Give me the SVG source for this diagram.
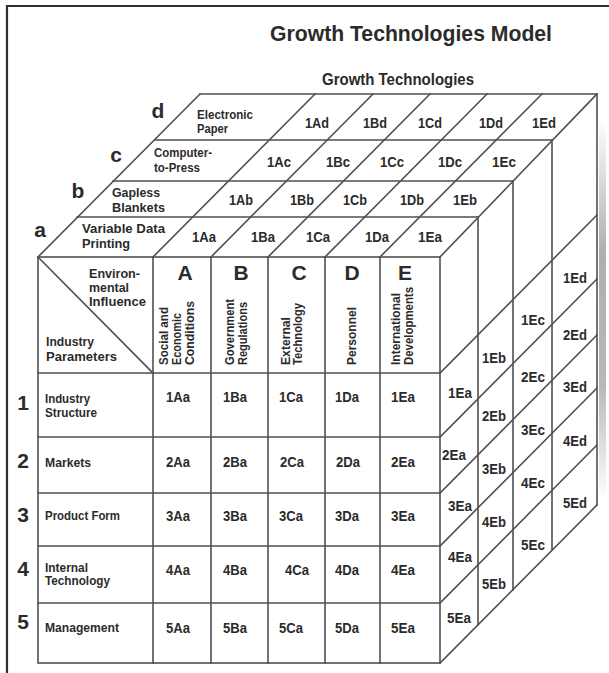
<svg xmlns="http://www.w3.org/2000/svg" width="609" height="673" viewBox="0 0 609 673">
<defs>
<style>
.ln{stroke:#505050;stroke-width:1.6;fill:none;stroke-linecap:square}
.fr{stroke:#303030;stroke-width:2.2;fill:none}
text{font-family:"Liberation Sans Narrow","Liberation Sans",Arial,sans-serif;font-weight:bold;fill:#2b2b2b}
.c{font-size:14px;text-anchor:middle}
.big{font-size:21px;text-anchor:middle}
.lb{font-size:13px}
.rl{font-size:12.5px}
.rt{font-size:12px}
.hd{font-size:13px}
</style>
<linearGradient id="shade" x1="0" y1="0" x2="0" y2="1">
<stop offset="0" stop-color="#9a9a9a" stop-opacity="0"/>
<stop offset="0.35" stop-color="#9a9a9a" stop-opacity="0.8"/>
<stop offset="0.7" stop-color="#9a9a9a" stop-opacity="0.7"/>
<stop offset="1" stop-color="#9a9a9a" stop-opacity="0"/>
</linearGradient>
</defs>
<rect width="609" height="673" fill="#ffffff"/>
<g id="frame">
<path class="fr" d="M7,673 V6 H609"/>
<rect x="599" y="120" width="7" height="380" fill="url(#shade)"/>
</g>
<g id="titles">
<text x="411" y="41" font-size="22" text-anchor="middle" textLength="282" lengthAdjust="spacingAndGlyphs">Growth Technologies Model</text>
<text x="398" y="85" font-size="16.5" text-anchor="middle" textLength="152" lengthAdjust="spacingAndGlyphs">Growth Technologies</text>
</g>
<g id="connectors">
<path class="ln" d="M77,217 H478 M113,181 H513 M155,140 H552 M200,94 H597"/>
<path class="ln" d="M38,257 L200,94 M153,257 L315,94 M211,257 L373,94 M268,257 L430,94 M325,257 L487,94 M380,257 L542,94 M440,257 L597,94"/>
<rect class="ln" x="38" y="257" width="402" height="406"/>
<path class="ln" d="M153,257 V663 M211,257 V663 M268,257 V663 M325,257 V663 M380,257 V663"/>
<path class="ln" d="M38,373 H440 M38,437 H440 M38,493 H440 M38,546 H440 M38,603 H440"/>
<path class="ln" d="M38,257 L153,373"/>
<path class="ln" d="M478,217 V625 M513,181 V590 M552,140 V550 M597,94 V505"/>
<path class="ln" d="M440,373 L597,215 M440,437 L597,279 M440,493 L597,335 M440,546 L597,388 M440,603 L597,445 M440,663 L597,505"/>
</g>
<g id="layer-labels">
<text class="big" x="40" y="237">a</text>
<text class="big" x="78" y="198">b</text>
<text class="big" x="116" y="162">c</text>
<text class="big" x="158" y="118">d</text>
</g>
<g id="layer-a">
<text class="lb" x="82" y="233" textLength="83" lengthAdjust="spacingAndGlyphs">Variable Data</text>
<text class="lb" x="82" y="248" textLength="48" lengthAdjust="spacingAndGlyphs">Printing</text>
<text class="c" x="204" y="242" textLength="24" lengthAdjust="spacingAndGlyphs">1Aa</text><text class="c" x="263" y="242" textLength="24" lengthAdjust="spacingAndGlyphs">1Ba</text><text class="c" x="318" y="242" textLength="24" lengthAdjust="spacingAndGlyphs">1Ca</text><text class="c" x="377" y="242" textLength="24" lengthAdjust="spacingAndGlyphs">1Da</text><text class="c" x="430" y="242" textLength="24" lengthAdjust="spacingAndGlyphs">1Ea</text>
</g>
<g id="layer-b">
<text class="lb" x="112" y="197" textLength="48" lengthAdjust="spacingAndGlyphs">Gapless</text>
<text class="lb" x="112" y="212" textLength="53" lengthAdjust="spacingAndGlyphs">Blankets</text>
<text class="c" x="241" y="205" textLength="24" lengthAdjust="spacingAndGlyphs">1Ab</text><text class="c" x="302" y="205" textLength="24" lengthAdjust="spacingAndGlyphs">1Bb</text><text class="c" x="355" y="205" textLength="24" lengthAdjust="spacingAndGlyphs">1Cb</text><text class="c" x="412" y="205" textLength="24" lengthAdjust="spacingAndGlyphs">1Db</text><text class="c" x="465" y="205" textLength="24" lengthAdjust="spacingAndGlyphs">1Eb</text>
</g>
<g id="layer-c">
<text class="rl" x="154" y="157" textLength="58" lengthAdjust="spacingAndGlyphs">Computer-</text>
<text class="rl" x="154" y="172" textLength="46" lengthAdjust="spacingAndGlyphs">to-Press</text>
<text class="c" x="279" y="167" textLength="24" lengthAdjust="spacingAndGlyphs">1Ac</text><text class="c" x="338" y="167" textLength="24" lengthAdjust="spacingAndGlyphs">1Bc</text><text class="c" x="392" y="167" textLength="24" lengthAdjust="spacingAndGlyphs">1Cc</text><text class="c" x="450" y="167" textLength="24" lengthAdjust="spacingAndGlyphs">1Dc</text><text class="c" x="504" y="167" textLength="24" lengthAdjust="spacingAndGlyphs">1Ec</text>
</g>
<g id="layer-d">
<text class="rl" x="197" y="119" textLength="56" lengthAdjust="spacingAndGlyphs">Electronic</text>
<text class="rl" x="197" y="133" textLength="31" lengthAdjust="spacingAndGlyphs">Paper</text>
<text class="c" x="317" y="128" textLength="24" lengthAdjust="spacingAndGlyphs">1Ad</text><text class="c" x="375" y="128" textLength="24" lengthAdjust="spacingAndGlyphs">1Bd</text><text class="c" x="430" y="128" textLength="24" lengthAdjust="spacingAndGlyphs">1Cd</text><text class="c" x="491" y="128" textLength="24" lengthAdjust="spacingAndGlyphs">1Dd</text><text class="c" x="544" y="128" textLength="24" lengthAdjust="spacingAndGlyphs">1Ed</text>
</g>
<g id="header">
<text class="hd" x="89" y="278" textLength="51" lengthAdjust="spacingAndGlyphs">Environ-</text>
<text class="hd" x="89" y="292" textLength="40" lengthAdjust="spacingAndGlyphs">mental</text>
<text class="hd" x="89" y="306" textLength="57" lengthAdjust="spacingAndGlyphs">Influence</text>
<text class="hd" x="46" y="346" textLength="48" lengthAdjust="spacingAndGlyphs">Industry</text>
<text class="hd" x="46" y="361" textLength="71" lengthAdjust="spacingAndGlyphs">Parameters</text>
</g>
<g id="col-A">
<text class="big" x="185" y="280">A</text>
<text class="rt" transform="translate(168,365) rotate(-90)" textLength="58" lengthAdjust="spacingAndGlyphs">Social and</text>
<text class="rt" transform="translate(181,365) rotate(-90)" textLength="52" lengthAdjust="spacingAndGlyphs">Economic</text>
<text class="rt" transform="translate(194,365) rotate(-90)" textLength="64" lengthAdjust="spacingAndGlyphs">Conditions</text>
</g>
<g id="col-B">
<text class="big" x="241" y="280">B</text>
<text class="rt" transform="translate(234,365) rotate(-90)" textLength="66" lengthAdjust="spacingAndGlyphs">Government</text>
<text class="rt" transform="translate(247,365) rotate(-90)" textLength="63" lengthAdjust="spacingAndGlyphs">Regulations</text>
</g>
<g id="col-C">
<text class="big" x="299" y="280">C</text>
<text class="rt" transform="translate(290,365) rotate(-90)" textLength="48" lengthAdjust="spacingAndGlyphs">External</text>
<text class="rt" transform="translate(302,365) rotate(-90)" textLength="62" lengthAdjust="spacingAndGlyphs">Technology</text>
</g>
<g id="col-D">
<text class="big" x="352" y="280">D</text>
<text class="rt" transform="translate(356,365) rotate(-90)" textLength="58" lengthAdjust="spacingAndGlyphs">Personnel</text>
</g>
<g id="col-E">
<text class="big" x="405" y="280">E</text>
<text class="rt" transform="translate(400,365) rotate(-90)" textLength="72" lengthAdjust="spacingAndGlyphs">International</text>
<text class="rt" transform="translate(413,365) rotate(-90)" textLength="78" lengthAdjust="spacingAndGlyphs">Developments</text>
</g>
<g id="row-1">
<text class="big" x="23" y="410">1</text>
<text class="rl" x="45" y="403" textLength="45" lengthAdjust="spacingAndGlyphs">Industry</text>
<text class="rl" x="45" y="417" textLength="52" lengthAdjust="spacingAndGlyphs">Structure</text>
<text class="c" x="178" y="402" textLength="24" lengthAdjust="spacingAndGlyphs">1Aa</text><text class="c" x="235" y="402" textLength="24" lengthAdjust="spacingAndGlyphs">1Ba</text><text class="c" x="291" y="402" textLength="24" lengthAdjust="spacingAndGlyphs">1Ca</text><text class="c" x="347" y="402" textLength="24" lengthAdjust="spacingAndGlyphs">1Da</text><text class="c" x="403" y="402" textLength="24" lengthAdjust="spacingAndGlyphs">1Ea</text>
</g>
<g id="row-2">
<text class="big" x="23" y="468">2</text>
<text class="rl" x="45" y="467" textLength="46" lengthAdjust="spacingAndGlyphs">Markets</text>
<text class="c" x="178" y="467" textLength="24" lengthAdjust="spacingAndGlyphs">2Aa</text><text class="c" x="235" y="467" textLength="24" lengthAdjust="spacingAndGlyphs">2Ba</text><text class="c" x="292" y="467" textLength="24" lengthAdjust="spacingAndGlyphs">2Ca</text><text class="c" x="348" y="467" textLength="24" lengthAdjust="spacingAndGlyphs">2Da</text><text class="c" x="403" y="467" textLength="24" lengthAdjust="spacingAndGlyphs">2Ea</text>
</g>
<g id="row-3">
<text class="big" x="23" y="522">3</text>
<text class="rl" x="45" y="520" textLength="75" lengthAdjust="spacingAndGlyphs">Product Form</text>
<text class="c" x="178" y="521" textLength="24" lengthAdjust="spacingAndGlyphs">3Aa</text><text class="c" x="235" y="521" textLength="24" lengthAdjust="spacingAndGlyphs">3Ba</text><text class="c" x="291" y="521" textLength="24" lengthAdjust="spacingAndGlyphs">3Ca</text><text class="c" x="347" y="521" textLength="24" lengthAdjust="spacingAndGlyphs">3Da</text><text class="c" x="403" y="521" textLength="24" lengthAdjust="spacingAndGlyphs">3Ea</text>
</g>
<g id="row-4">
<text class="big" x="23" y="576">4</text>
<text class="rl" x="45" y="572" textLength="43" lengthAdjust="spacingAndGlyphs">Internal</text>
<text class="rl" x="45" y="585" textLength="65" lengthAdjust="spacingAndGlyphs">Technology</text>
<text class="c" x="178" y="575" textLength="24" lengthAdjust="spacingAndGlyphs">4Aa</text><text class="c" x="235" y="575" textLength="24" lengthAdjust="spacingAndGlyphs">4Ba</text><text class="c" x="297" y="575" textLength="24" lengthAdjust="spacingAndGlyphs">4Ca</text><text class="c" x="347" y="575" textLength="24" lengthAdjust="spacingAndGlyphs">4Da</text><text class="c" x="403" y="575" textLength="24" lengthAdjust="spacingAndGlyphs">4Ea</text>
</g>
<g id="row-5">
<text class="big" x="23" y="629">5</text>
<text class="rl" x="45" y="632" textLength="74" lengthAdjust="spacingAndGlyphs">Management</text>
<text class="c" x="178" y="633" textLength="24" lengthAdjust="spacingAndGlyphs">5Aa</text><text class="c" x="235" y="633" textLength="24" lengthAdjust="spacingAndGlyphs">5Ba</text><text class="c" x="291" y="633" textLength="24" lengthAdjust="spacingAndGlyphs">5Ca</text><text class="c" x="347" y="633" textLength="24" lengthAdjust="spacingAndGlyphs">5Da</text><text class="c" x="403" y="633" textLength="24" lengthAdjust="spacingAndGlyphs">5Ea</text>
</g>
<g id="side-a">
<text class="c" x="460" y="398" textLength="24" lengthAdjust="spacingAndGlyphs">1Ea</text><text class="c" x="454" y="460" textLength="24" lengthAdjust="spacingAndGlyphs">2Ea</text><text class="c" x="460" y="511" textLength="24" lengthAdjust="spacingAndGlyphs">3Ea</text><text class="c" x="460" y="562" textLength="24" lengthAdjust="spacingAndGlyphs">4Ea</text><text class="c" x="459" y="623" textLength="24" lengthAdjust="spacingAndGlyphs">5Ea</text>
</g>
<g id="side-b">
<text class="c" x="494" y="363" textLength="24" lengthAdjust="spacingAndGlyphs">1Eb</text><text class="c" x="494" y="421" textLength="24" lengthAdjust="spacingAndGlyphs">2Eb</text><text class="c" x="494" y="474" textLength="24" lengthAdjust="spacingAndGlyphs">3Eb</text><text class="c" x="494" y="527" textLength="24" lengthAdjust="spacingAndGlyphs">4Eb</text><text class="c" x="494" y="589" textLength="24" lengthAdjust="spacingAndGlyphs">5Eb</text>
</g>
<g id="side-c">
<text class="c" x="533" y="325" textLength="24" lengthAdjust="spacingAndGlyphs">1Ec</text><text class="c" x="533" y="382" textLength="24" lengthAdjust="spacingAndGlyphs">2Ec</text><text class="c" x="533" y="435" textLength="24" lengthAdjust="spacingAndGlyphs">3Ec</text><text class="c" x="533" y="488" textLength="24" lengthAdjust="spacingAndGlyphs">4Ec</text><text class="c" x="533" y="550" textLength="24" lengthAdjust="spacingAndGlyphs">5Ec</text>
</g>
<g id="side-d">
<text class="c" x="575" y="283" textLength="24" lengthAdjust="spacingAndGlyphs">1Ed</text><text class="c" x="575" y="340" textLength="24" lengthAdjust="spacingAndGlyphs">2Ed</text><text class="c" x="575" y="392" textLength="24" lengthAdjust="spacingAndGlyphs">3Ed</text><text class="c" x="575" y="446" textLength="24" lengthAdjust="spacingAndGlyphs">4Ed</text><text class="c" x="575" y="508" textLength="24" lengthAdjust="spacingAndGlyphs">5Ed</text>
</g>
</svg>
